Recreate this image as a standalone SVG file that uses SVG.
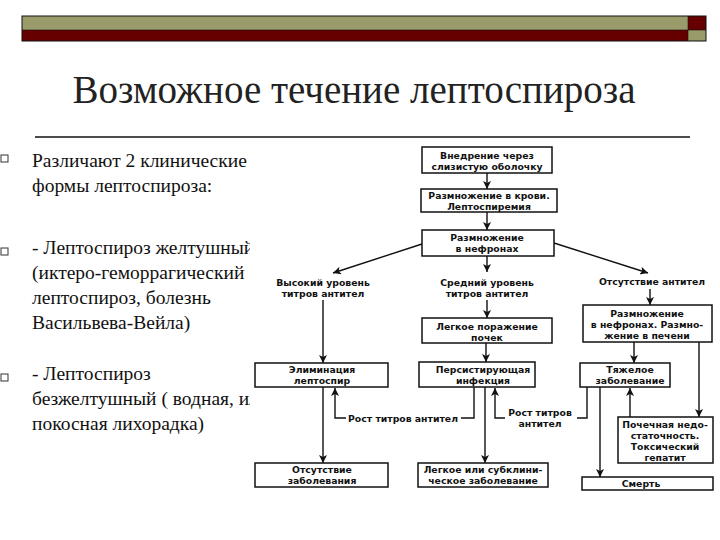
<svg xmlns="http://www.w3.org/2000/svg" width="720" height="540" viewBox="0 0 720 540">
<defs>
<style>
.box{fill:#fff;stroke:#111;stroke-width:1.5}
.ft{font-family:"DejaVu Sans","Liberation Sans",Arial,sans-serif;font-size:9.3px;font-weight:bold;fill:#111;text-anchor:middle}
.lt{font-family:"Liberation Serif","Times New Roman",serif;font-size:19.5px;fill:#111}
.ln{fill:none;stroke:#111;stroke-width:1.4}
.bul{fill:#fff;stroke:#333;stroke-width:1}
</style>
<marker id="ah" markerWidth="8" markerHeight="8" refX="8" refY="4" orient="auto" markerUnits="userSpaceOnUse">
<path d="M0,0 L8,4 L0,8 L2,4 z" fill="#111"/>
</marker>
<clipPath id="clipL"><rect x="0" y="140" width="250" height="310"/></clipPath>
</defs>
<rect width="720" height="540" fill="#fff"/>
<g id="header">
<rect x="22" y="16" width="666" height="14" fill="#9a9a6a"/>
<rect x="22" y="30" width="666" height="11" fill="#660000"/>
<rect x="688" y="16" width="18" height="14" fill="#660000"/>
<rect x="688" y="30" width="18" height="11" fill="#9a9a6a"/>
<rect x="22" y="16" width="684" height="25" fill="none" stroke="#111" stroke-width="1"/>
<line x1="22" y1="30" x2="706" y2="30" stroke="#111" stroke-width="0.6"/>
<line x1="688" y1="16" x2="688" y2="41" stroke="#111" stroke-width="0.6"/>
</g>
<g id="title">
<text x="354" y="103" font-family="'Liberation Serif','Times New Roman',serif" font-size="39" fill="#222" text-anchor="middle">Возможное течение лептоспироза</text>
<line x1="35" y1="137" x2="690" y2="137" stroke="#111" stroke-width="1.5"/>
</g>
<g id="bullets" clip-path="url(#clipL)">
<rect class="bul" x="1" y="155" width="7" height="7"/>
<rect class="bul" x="1" y="248" width="7" height="7"/>
<rect class="bul" x="1" y="374" width="7" height="7"/>
<text class="lt" x="32" y="167">Различают 2 клинические</text>
<text class="lt" x="32" y="192">формы лептоспироза:</text>
<text class="lt" x="32" y="254">- Лептоспироз желтушный</text>
<text class="lt" x="32" y="279">(иктеро-геморрагический</text>
<text class="lt" x="32" y="304">лептоспироз, болезнь</text>
<text class="lt" x="32" y="329">Васильвева-Вейла)</text>
<text class="lt" x="32" y="380">- Лептоспироз</text>
<text class="lt" x="32" y="405">безжелтушный ( водная, или</text>
<text class="lt" x="32" y="430">покосная лихорадка)</text>
</g>
<g id="connectors">
<line class="ln" x1="487" y1="173" x2="487" y2="189" marker-end="url(#ah)"/>
<line class="ln" x1="487" y1="212" x2="487" y2="230" marker-end="url(#ah)"/>
<line class="ln" x1="487" y1="256" x2="487" y2="272" marker-end="url(#ah)"/>
<line class="ln" x1="487" y1="300" x2="487" y2="318" marker-end="url(#ah)"/>
<line class="ln" x1="486" y1="343" x2="486" y2="362" marker-end="url(#ah)"/>
<line class="ln" x1="422" y1="244" x2="333" y2="273" marker-end="url(#ah)"/>
<line class="ln" x1="554" y1="243" x2="648" y2="273" marker-end="url(#ah)"/>
<line class="ln" x1="323" y1="300" x2="323" y2="363" marker-end="url(#ah)"/>
<line class="ln" x1="650" y1="289" x2="650" y2="305" marker-end="url(#ah)"/>
<line class="ln" x1="634" y1="342" x2="634" y2="363" marker-end="url(#ah)"/>
<line class="ln" x1="699" y1="342" x2="699" y2="417" marker-end="url(#ah)"/>
<line class="ln" x1="323" y1="387" x2="323" y2="463" marker-end="url(#ah)"/>
<line class="ln" x1="485" y1="387" x2="485" y2="463" marker-end="url(#ah)"/>
<polyline class="ln" points="474,387 474,418 461,418"/>
<polyline class="ln" points="346,418 335,418 335,388" marker-end="url(#ah)"/>
<polyline class="ln" points="587,387 587,418 577,418"/>
<polyline class="ln" points="505,418 495,418 495,388" marker-end="url(#ah)"/>
<line class="ln" x1="600" y1="387" x2="600" y2="477" marker-end="url(#ah)"/>
<line class="ln" x1="630" y1="417" x2="630" y2="388" marker-end="url(#ah)"/>
</g>
<g id="n1"><rect class="box" x="422" y="147" width="130" height="26"/><text class="ft" x="487" y="159">Внедрение через</text><text class="ft" x="487" y="170">слизистую оболочку</text></g>
<g id="n2"><rect class="box" x="421" y="189" width="136" height="23"/><text class="ft" x="489" y="199">Размножение в крови.</text><text class="ft" x="489" y="210">Лептоспиремия</text></g>
<g id="n3"><rect class="box" x="422" y="230" width="132" height="26"/><text class="ft" x="487" y="241">Размножение</text><text class="ft" x="487" y="252">в нефронах</text></g>
<g id="n4"><text class="ft" x="323" y="286">Высокий уровень</text><text class="ft" x="323" y="297">титров антител</text></g>
<g id="n5"><text class="ft" x="487" y="286">Средний уровень</text><text class="ft" x="487" y="297">титров антител</text></g>
<g id="n6"><text class="ft" x="652" y="285">Отсутствие антител</text></g>
<g id="n7"><rect class="box" x="422" y="318" width="130" height="25"/><text class="ft" x="487" y="330">Легкое поражение</text><text class="ft" x="487" y="341">почек</text></g>
<g id="n8"><rect class="box" x="583" y="305" width="129" height="37"/><text class="ft" x="647" y="317">Размножение</text><text class="ft" x="647" y="328">в нефронах. Размно-</text><text class="ft" x="647" y="339">жение в печени</text></g>
<g id="n9"><rect class="box" x="255" y="363" width="133" height="24"/><text class="ft" x="322" y="373">Элиминация</text><text class="ft" x="322" y="384">лептоспир</text></g>
<g id="n10"><rect class="box" x="419" y="362" width="116" height="25"/><text class="ft" x="483" y="373">Персистирующая</text><text class="ft" x="483" y="384">инфекция</text></g>
<g id="n11"><rect class="box" x="580" y="363" width="90" height="24"/><text class="ft" x="630" y="373">Тяжелое</text><text class="ft" x="630" y="384">заболевание</text></g>
<g id="n12"><text class="ft" x="403" y="422">Рост титров антител</text></g>
<g id="n13"><text class="ft" x="540" y="416">Рост титров</text><text class="ft" x="540" y="427">антител</text></g>
<g id="n14"><rect class="box" x="618" y="417" width="95" height="46"/><text class="ft" x="665" y="428">Почечная недо-</text><text class="ft" x="665" y="439">статочность.</text><text class="ft" x="665" y="450">Токсический</text><text class="ft" x="665" y="461">гепатит</text></g>
<g id="n15"><rect class="box" x="255" y="463" width="133" height="24"/><text class="ft" x="322" y="473">Отсутствие</text><text class="ft" x="322" y="484">заболевания</text></g>
<g id="n16"><rect class="box" x="418" y="463" width="130" height="24"/><text class="ft" x="483" y="473">Легкое или субклини-</text><text class="ft" x="483" y="484">ческое заболевание</text></g>
<g id="n17"><rect class="box" x="582" y="477" width="131" height="13"/><text class="ft" x="641" y="487">Смерть</text></g>
</svg>
